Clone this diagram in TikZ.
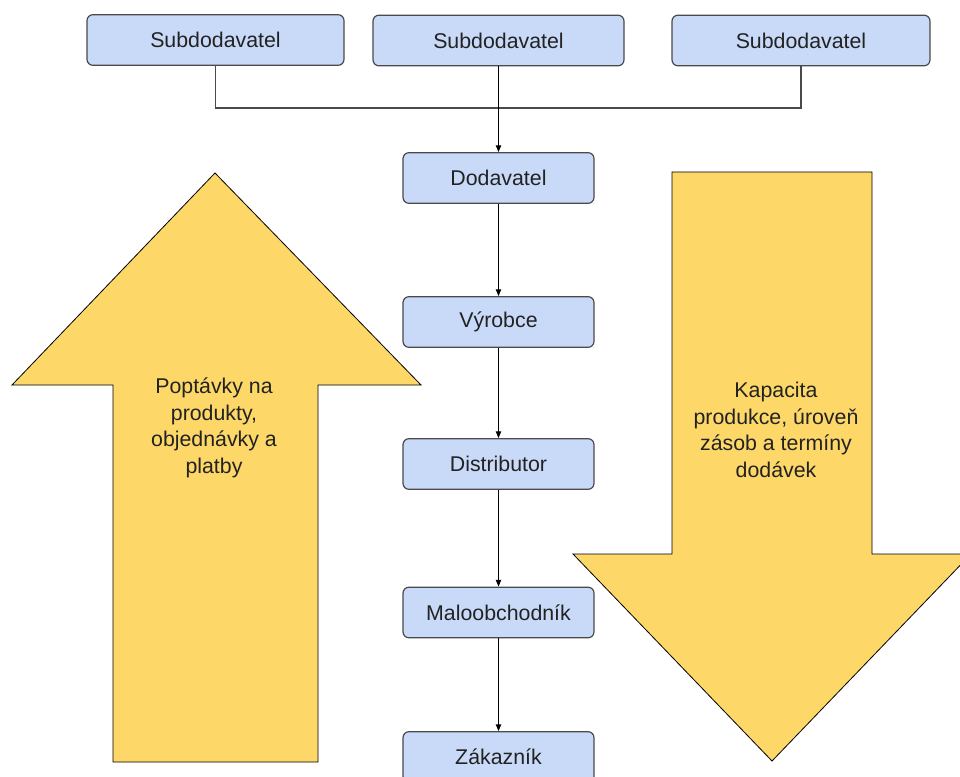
\documentclass[tikz,border=0pt]{standalone}
\usepackage{fontspec}
\setmainfont{Liberation Sans}
\usetikzlibrary{arrows.meta}
\definecolor{boxfill}{HTML}{C9DAF8}
\definecolor{boxline}{HTML}{4A4A4A}
\definecolor{flowfill}{HTML}{FDD868}
\definecolor{txt}{HTML}{222222}
\tikzset{
  stage/.style={draw=boxline, line width=0.9pt, fill=boxfill, rounded corners=4.5pt,
    minimum height=38pt, inner sep=0pt, text=txt, font=\fontsize{16}{20}\selectfont},
  link/.style={draw=black, line width=0.75pt, -{Triangle[length=5pt,width=4pt]}},
  joint/.style={draw=boxline, line width=0.9pt},
  flow/.style={draw=black, line width=0.6pt, fill=flowfill, line join=miter},
  flowtext/.style={align=center, text=txt, font=\fontsize{16}{20}\selectfont, inner sep=0pt}
}
\begin{document}
\begin{tikzpicture}[x=0.75pt, y=-0.75pt]
  \useasboundingbox (0,0) rectangle (960,777);
  \fill[white] (0,0) rectangle (960,777);

  % wide flow arrows
  \path[flow] (113,762) -- (113,385) -- (12,385) -- (215,173) -- (421,385)
    -- (318,385) -- (318,762) -- cycle;
  \path[flow] (672,172) -- (872,172) -- (872,554) -- (971,554) -- (772,761)
    -- (573,554) -- (672,554) -- cycle;
  \node[flowtext] (up) at (214,428) {Poptávky na\\produkty,\\objednávky a\\platby};
  \node[flowtext] (down) at (776,430) {Kapacita\\produkce, úroveň\\zásob a termíny\\dodávek};

  % top tier
  \node[stage, minimum width=192.75pt] (s1) at (215.5,40) {Subdodavatel};
  \node[stage, minimum width=188.25pt] (s2) at (498.5,40.5) {Subdodavatel};
  \node[stage, minimum width=193.5pt]  (s3) at (801,40.5) {Subdodavatel};

  % supply chain
  \node[stage, minimum width=143.25pt] (d) at (498.5,178) {Dodavatel};
  \node[stage, minimum width=143.25pt] (v) at (498.5,322) {Výrobce};
  \node[stage, minimum width=143.25pt] (r) at (498.5,464) {Distributor};
  \node[stage, minimum width=143.25pt] (m) at (498.5,612.5) {Maloobchodník};
  \node[stage, minimum width=143.25pt] (z) at (498.5,757) {Zákazník};

  \coordinate (j) at (498.5,108);
  \draw[joint] (s1.south) |- (j) -| (s3.south);
  \draw[link] (s2.south) -- (d.north);
  \draw[link] (d.south) -- (v.north);
  \draw[link] (v.south) -- (r.north);
  \draw[link] (r.south) -- (m.north);
  \draw[link] (m.south) -- (z.north);
\end{tikzpicture}
\end{document}
